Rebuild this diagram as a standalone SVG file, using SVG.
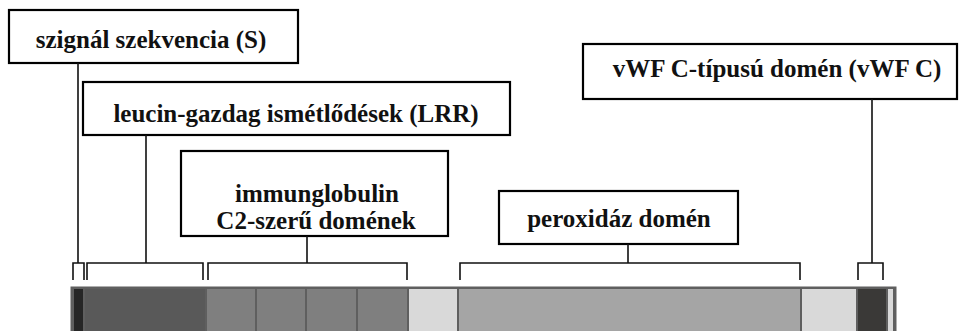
<svg xmlns="http://www.w3.org/2000/svg" width="961" height="331" viewBox="0 0 961 331">
<style>
.box{fill:#fff;stroke:#000;stroke-width:2.2}
.lbl{font-family:"Liberation Serif","Times New Roman","DejaVu Serif",serif;font-weight:bold;font-size:25px;fill:#111;text-anchor:middle}
.ln{fill:none;stroke:#111;stroke-width:1.6}
.seg{stroke:#5f5f5f;stroke-width:2}
</style>
<rect width="961" height="331" fill="#fff"/>
<g id="bar">
<rect x="72" y="288" width="823" height="60" fill="#d9d9d9" stroke="#5f5f5f" stroke-width="3"/>
<rect class="seg" x="73" y="288" width="11" height="60" fill="#262626"/>
<rect class="seg" x="84" y="288" width="122" height="60" fill="#595959"/>
<rect class="seg" x="206" y="288" width="50" height="60" fill="#7f7f7f"/>
<rect class="seg" x="256" y="288" width="50" height="60" fill="#7f7f7f"/>
<rect class="seg" x="306" y="288" width="51" height="60" fill="#7f7f7f"/>
<rect class="seg" x="357" y="288" width="51" height="60" fill="#7f7f7f"/>
<rect class="seg" x="408" y="288" width="50" height="60" fill="#d9d9d9"/>
<rect class="seg" x="458" y="288" width="343" height="60" fill="#a5a5a5"/>
<rect class="seg" x="801" y="288" width="56" height="60" fill="#d9d9d9"/>
<rect class="seg" x="857" y="288" width="30" height="60" fill="#3a3937"/>
<rect class="seg" x="887" y="288" width="7" height="60" fill="#d9d9d9"/>
</g>
<g id="node-s">
<rect class="box" x="9" y="10" width="289" height="53"/>
<text class="lbl" x="151" y="48">szignál szekvencia (S)</text>
</g>
<g id="node-lrr">
<rect class="box" x="83" y="82" width="427" height="53"/>
<text class="lbl" x="296" y="122">leucin-gazdag ismétlődések (LRR)</text>
</g>
<g id="node-ig">
<rect class="box" x="181" y="151" width="267" height="85"/>
<text class="lbl" x="317" y="201.5">immunglobulin</text>
<text class="lbl" x="316" y="228.5">C2-szerű domének</text>
</g>
<g id="node-perox">
<rect class="box" x="499" y="191" width="239" height="53"/>
<text class="lbl" x="619" y="227">peroxidáz domén</text>
</g>
<g id="node-vwf">
<rect class="box" x="583" y="44" width="374" height="55"/>
<text class="lbl" x="777" y="77">vWF C-típusú domén (vWF C)</text>
</g>
<g id="connectors">
<path class="ln" d="M78 63V263M73 280V263H84V280"/>
<path class="ln" d="M146 135V263M87 280V263H203V280"/>
<path class="ln" d="M307 236V263M208 280V263H407V280"/>
<path class="ln" d="M628 244V263M460 280V263H800V280"/>
<path class="ln" d="M872 99V263M858 280V263H883V280"/>
</g>
</svg>
